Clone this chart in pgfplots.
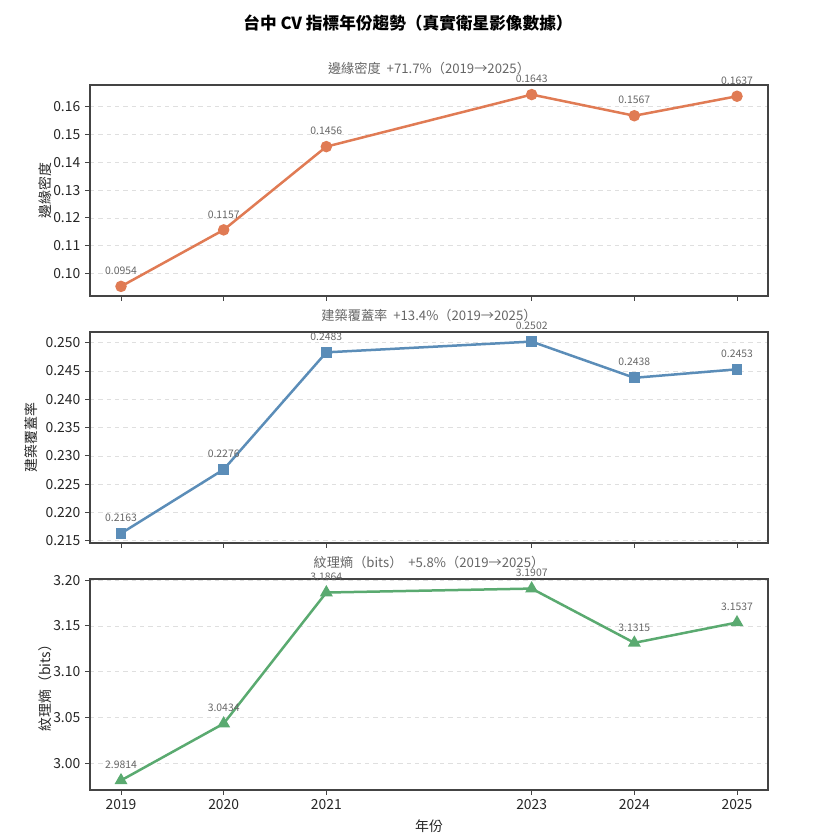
\documentclass[border=0pt]{standalone}
\usepackage{pgfplots}
\pgfplotsset{compat=1.18}
\usepackage{fontspec}
\setmainfont{Noto Sans CJK TC}
\definecolor{corange}{HTML}{E07B54}
\definecolor{cblue}{HTML}{5B8DB8}
\definecolor{cgreen}{HTML}{5AAA70}
\definecolor{cframe}{HTML}{444444}
\definecolor{ctext}{HTML}{666666}
\pgfplotsset{
  panel/.style={
    width=488.16pt, height=151.92pt, scale only axis,
    xmin=2018.698, xmax=2025.302,
    xtick={2019,2020,2021,2023,2024,2025},
    xticklabel style={/pgf/number format/1000 sep={}},
    tick align=outside, tick pos=left,
    major tick length=3.5pt,
    tick style={cframe, line width=0.6pt},
    axis line style={cframe, line width=0.8pt},
    ymajorgrids=true,
    grid style={dashed, gray!25, line width=0.5pt},
    /pgf/number format/assume math mode=true,
    tick label style={font=\fontsize{10}{12}\selectfont, text=black!85},
    ylabel style={font=\fontsize{10}{12}\selectfont, text=black!85},
    title style={font=\fontsize{9.5}{11}\selectfont, text=ctext, yshift=-2pt},
    clip=false,
    nodes near coords,
    nodes near coords style={font=\fontsize{7.5}{9}\selectfont, text=ctext,
      anchor=south, inner sep=0pt, yshift=7.5pt,
      /pgf/number format/fixed, /pgf/number format/fixed zerofill,
      /pgf/number format/precision=4},
    every axis plot/.append style={line width=1.8pt},
    ylabel shift=-6pt,
  },
}
\begin{document}
\begin{tikzpicture}
\path[use as bounding box] (0,0) rectangle (587.52pt,604.08pt);
\node[font=\fontsize{12}{14}\selectfont\bfseries] at (293.76pt,587.2pt) {台中 CV 指標年份趨勢（真實衛星影像數據）};

\begin{axis}[panel, at={(64.8pt,390.96pt)}, anchor=south west,
  ymin=0.091955, ymax=0.167745,
  ytick={0.10,0.11,0.12,0.13,0.14,0.15,0.16},
  yticklabel style={/pgf/number format/fixed, /pgf/number format/fixed zerofill, /pgf/number format/precision=2},
  xticklabels={},
  title={邊緣密度 \ +71.7\%（2019→2025）},
  ylabel={邊緣密度}]
\addplot[color=corange, mark=*, mark size=3.2pt, mark options={solid}]
  coordinates {(2019,0.0954)(2020,0.1157)(2021,0.1456)(2023,0.1643)(2024,0.1567)(2025,0.1637)};
\end{axis}

\begin{axis}[panel, at={(64.8pt,213.12pt)}, anchor=south west,
  ymin=0.214605, ymax=0.251895,
  ytick={0.215,0.220,0.225,0.230,0.235,0.240,0.245,0.250},
  yticklabel style={/pgf/number format/fixed, /pgf/number format/fixed zerofill, /pgf/number format/precision=3},
  xticklabels={},
  title={建築覆蓋率 \ +13.4\%（2019→2025）},
  ylabel={建築覆蓋率}, ylabel shift=-1pt]
\addplot[color=cblue, mark=square*, mark size=3pt, mark options={solid}]
  coordinates {(2019,0.2163)(2020,0.2276)(2021,0.2483)(2023,0.2502)(2024,0.2438)(2025,0.2453)};
\end{axis}

\begin{axis}[panel, at={(64.8pt,35.28pt)}, anchor=south west,
  ymin=2.970935, ymax=3.201165,
  ytick={3.00,3.05,3.10,3.15,3.20},
  yticklabel style={/pgf/number format/fixed, /pgf/number format/fixed zerofill, /pgf/number format/precision=2},
  title={紋理熵（bits） \ +5.8\%（2019→2025）},
  ylabel={紋理熵（bits）},
  xlabel={年份},
  xlabel style={font=\fontsize{10}{12}\selectfont, text=black!85}]
\addplot[color=cgreen, mark=triangle*, mark size=3.6pt, mark options={solid}]
  coordinates {(2019,2.9814)(2020,3.0434)(2021,3.1864)(2023,3.1907)(2024,3.1315)(2025,3.1537)};
\end{axis}
\end{tikzpicture}
\end{document}
